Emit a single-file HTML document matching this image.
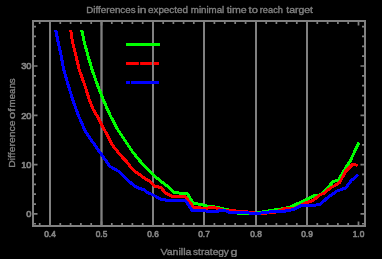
<!DOCTYPE html>
<html><head><meta charset="utf-8"><style>
html,body{margin:0;padding:0;background:#000;width:382px;height:259px;overflow:hidden}
svg{display:block}
</style></head><body>
<svg width="382" height="259" viewBox="0 0 382 259">
<rect width="382" height="259" fill="#000"/>
<line x1="50.00" y1="21" x2="50.00" y2="226" stroke="#808080" stroke-width="2"/>
<line x1="101.50" y1="21" x2="101.50" y2="226" stroke="#808080" stroke-width="2.3"/>
<line x1="153.00" y1="21" x2="153.00" y2="226" stroke="#808080" stroke-width="2"/>
<line x1="204.00" y1="21" x2="204.00" y2="226" stroke="#808080" stroke-width="2"/>
<line x1="256.00" y1="21" x2="256.00" y2="226" stroke="#808080" stroke-width="2"/>
<line x1="307.00" y1="21" x2="307.00" y2="226" stroke="#808080" stroke-width="2"/>
<path d="M39.70 226 v-3.0 M39.70 21 v3.0 M50.00 226 v-4.5 M50.00 21 v4.5 M60.30 226 v-3.0 M60.30 21 v3.0 M70.60 226 v-3.0 M70.60 21 v3.0 M80.90 226 v-3.0 M80.90 21 v3.0 M91.20 226 v-3.0 M91.20 21 v3.0 M101.50 226 v-4.5 M101.50 21 v4.5 M111.80 226 v-3.0 M111.80 21 v3.0 M122.10 226 v-3.0 M122.10 21 v3.0 M132.40 226 v-3.0 M132.40 21 v3.0 M142.70 226 v-3.0 M142.70 21 v3.0 M153.00 226 v-4.5 M153.00 21 v4.5 M163.20 226 v-3.0 M163.20 21 v3.0 M173.40 226 v-3.0 M173.40 21 v3.0 M183.60 226 v-3.0 M183.60 21 v3.0 M193.80 226 v-3.0 M193.80 21 v3.0 M204.00 226 v-4.5 M204.00 21 v4.5 M214.40 226 v-3.0 M214.40 21 v3.0 M224.80 226 v-3.0 M224.80 21 v3.0 M235.20 226 v-3.0 M235.20 21 v3.0 M245.60 226 v-3.0 M245.60 21 v3.0 M256.00 226 v-4.5 M256.00 21 v4.5 M266.20 226 v-3.0 M266.20 21 v3.0 M276.40 226 v-3.0 M276.40 21 v3.0 M286.60 226 v-3.0 M286.60 21 v3.0 M296.80 226 v-3.0 M296.80 21 v3.0 M307.00 226 v-4.5 M307.00 21 v4.5 M317.30 226 v-3.0 M317.30 21 v3.0 M327.60 226 v-3.0 M327.60 21 v3.0 M337.90 226 v-3.0 M337.90 21 v3.0 M348.20 226 v-3.0 M348.20 21 v3.0 M358.50 226 v-4.5 M358.50 21 v4.5 M33 223.76 h3.0 M365 223.76 h-3.0 M33 213.90 h4.5 M365 213.90 h-4.5 M33 204.04 h3.0 M365 204.04 h-3.0 M33 194.18 h3.0 M365 194.18 h-3.0 M33 184.32 h3.0 M365 184.32 h-3.0 M33 174.46 h3.0 M365 174.46 h-3.0 M33 164.60 h4.5 M365 164.60 h-4.5 M33 154.74 h3.0 M365 154.74 h-3.0 M33 144.88 h3.0 M365 144.88 h-3.0 M33 135.02 h3.0 M365 135.02 h-3.0 M33 125.16 h3.0 M365 125.16 h-3.0 M33 115.30 h4.5 M365 115.30 h-4.5 M33 105.44 h3.0 M365 105.44 h-3.0 M33 95.58 h3.0 M365 95.58 h-3.0 M33 85.72 h3.0 M365 85.72 h-3.0 M33 75.86 h3.0 M365 75.86 h-3.0 M33 66.00 h4.5 M365 66.00 h-4.5 M33 56.14 h3.0 M365 56.14 h-3.0 M33 46.28 h3.0 M365 46.28 h-3.0 M33 36.42 h3.0 M365 36.42 h-3.0 M33 26.56 h3.0 M365 26.56 h-3.0" stroke="#808080" stroke-width="1.7" fill="none"/>
<rect x="33" y="21" width="332" height="205" fill="none" stroke="#808080" stroke-width="2"/>
<defs><clipPath id="cl"><rect x="0" y="30" width="382" height="259"/></clipPath></defs>
<polyline points="81.3,28.0 84.0,41.0 88.0,56.0 92.2,70.0 97.5,85.0 103.4,100.0 110.0,115.0 118.0,130.0 132.7,152.0 140.4,161.5 154.7,176.2 164.3,184.0 168.0,186.3 174.3,192.9 187.0,193.2 193.1,203.0 202.4,204.8 210.5,206.8 214.8,207.0 221.6,208.5 229.3,210.2 238.9,213.6 255.0,213.3 265.0,211.6 274.6,210.0 284.3,208.5 290.0,207.0 301.6,201.8 313.2,196.0 321.2,194.7 327.4,188.2 333.5,181.2 338.2,180.5 344.3,170.1 350.0,161.4 359.0,142.3" fill="none" stroke="#00ff00" stroke-width="3" stroke-linejoin="round" shape-rendering="crispEdges" clip-path="url(#cl)"/>
<polyline points="70.5,28.0 72.3,41.0 75.5,54.0 79.3,70.0 84.7,85.0 89.4,100.0 93.5,110.0 98.3,118.0 102.0,125.7 108.2,136.5 111.9,144.0 114.5,147.8 120.2,155.0 126.6,161.7 133.2,170.1 139.0,174.2 143.1,177.3 148.9,180.8 155.0,186.3 160.9,187.5 165.5,193.0 172.0,196.1 185.0,196.5 193.5,207.0 204.7,208.5 208.2,208.0 214.0,207.3 222.5,210.0 236.0,211.0 240.0,211.0 255.0,213.0 265.0,213.2 274.6,212.4 284.3,208.7 294.0,208.7 303.9,203.5 313.0,200.5 319.0,195.5 324.3,193.0 330.5,187.8 336.6,184.6 339.6,182.6 345.6,171.5 352.4,164.6 357.6,165.2" fill="none" stroke="#ff0000" stroke-width="3" stroke-linejoin="round" shape-rendering="crispEdges" clip-path="url(#cl)"/>
<polyline points="55.3,28.0 57.9,41.0 61.0,55.0 63.8,70.0 68.2,85.0 72.8,100.0 78.2,115.0 85.6,131.9 89.9,138.0 95.3,145.8 101.6,154.8 110.0,166.4 119.3,171.8 127.4,180.0 135.0,186.3 139.0,188.2 144.3,190.0 147.0,192.2 153.9,195.4 160.9,199.2 169.0,200.6 185.9,201.0 192.0,210.3 214.0,211.4 224.5,210.5 231.2,213.0 240.0,212.5 255.0,213.3 265.0,212.8 274.6,211.0 284.3,211.2 293.5,209.6 299.3,206.5 301.6,205.5 315.0,205.1 320.0,204.6 327.4,197.8 337.0,191.0 345.5,188.0 351.2,180.6 358.2,174.8" fill="none" stroke="#0000ff" stroke-width="3" stroke-linejoin="round" shape-rendering="crispEdges" clip-path="url(#cl)"/>
<path d="M126 44.5 H160" stroke="#00ff00" stroke-width="3"/>
<path d="M126 63.4 H159" stroke="#ff0000" stroke-width="3" stroke-dasharray="12.9 1.2 11.8 1.6 6"/>
<path d="M126 82.4 H159" stroke="#0000ff" stroke-width="3" stroke-dasharray="4 1 28"/>
<g style="filter:blur(0.3px)">
<text x="86.20" y="13.20" font-size="8.7" textLength="49.40" lengthAdjust="spacingAndGlyphs" font-family="Liberation Sans" fill="#808080" stroke="#808080" stroke-width="0.35" stroke-linejoin="round">Differences</text>
<text x="137.20" y="13.20" font-size="8.7" textLength="9.40" lengthAdjust="spacingAndGlyphs" font-family="Liberation Sans" fill="#808080" stroke="#808080" stroke-width="0.35" stroke-linejoin="round">in</text>
<text x="148.00" y="13.20" font-size="8.7" textLength="39.90" lengthAdjust="spacingAndGlyphs" font-family="Liberation Sans" fill="#808080" stroke="#808080" stroke-width="0.35" stroke-linejoin="round">expected</text>
<text x="190.80" y="13.20" font-size="8.7" textLength="33.50" lengthAdjust="spacingAndGlyphs" font-family="Liberation Sans" fill="#808080" stroke="#808080" stroke-width="0.35" stroke-linejoin="round">minimal</text>
<text x="226.70" y="13.20" font-size="8.7" textLength="20.00" lengthAdjust="spacingAndGlyphs" font-family="Liberation Sans" fill="#808080" stroke="#808080" stroke-width="0.35" stroke-linejoin="round">time</text>
<text x="248.60" y="13.20" font-size="8.7" textLength="9.30" lengthAdjust="spacingAndGlyphs" font-family="Liberation Sans" fill="#808080" stroke="#808080" stroke-width="0.35" stroke-linejoin="round">to</text>
<text x="259.80" y="13.20" font-size="8.7" textLength="23.10" lengthAdjust="spacingAndGlyphs" font-family="Liberation Sans" fill="#808080" stroke="#808080" stroke-width="0.35" stroke-linejoin="round">reach</text>
<text x="286.30" y="13.20" font-size="8.7" textLength="26.70" lengthAdjust="spacingAndGlyphs" font-family="Liberation Sans" fill="#808080" stroke="#808080" stroke-width="0.35" stroke-linejoin="round">target</text>
<text x="160.40" y="254.50" font-size="9" textLength="31.10" lengthAdjust="spacingAndGlyphs" font-family="Liberation Sans" fill="#808080" stroke="#808080" stroke-width="0.35" stroke-linejoin="round">Vanilla</text>
<text x="193.10" y="254.50" font-size="9" textLength="35.80" lengthAdjust="spacingAndGlyphs" font-family="Liberation Sans" fill="#808080" stroke="#808080" stroke-width="0.35" stroke-linejoin="round">strategy</text>
<text x="230.50" y="254.50" font-size="9" textLength="6.90" lengthAdjust="spacingAndGlyphs" font-family="Liberation Sans" fill="#808080" stroke="#808080" stroke-width="0.35" stroke-linejoin="round">g</text>
<text transform="translate(15.00,167.60) rotate(-90)" x="-0.20" y="0" font-size="9.4" textLength="47.30" lengthAdjust="spacingAndGlyphs" font-family="Liberation Sans" fill="#808080" stroke="#808080" stroke-width="0.35" stroke-linejoin="round">Difference</text>
<text transform="translate(15.00,167.60) rotate(-90)" x="48.70" y="0" font-size="9.4" textLength="10.60" lengthAdjust="spacingAndGlyphs" font-family="Liberation Sans" fill="#808080" stroke="#808080" stroke-width="0.35" stroke-linejoin="round">of</text>
<text transform="translate(15.00,167.60) rotate(-90)" x="60.20" y="0" font-size="9.4" textLength="29.00" lengthAdjust="spacingAndGlyphs" font-family="Liberation Sans" fill="#808080" stroke="#808080" stroke-width="0.35" stroke-linejoin="round">means</text>
<text x="50.00" y="236.9" font-size="9.4" textLength="11.6" lengthAdjust="spacingAndGlyphs" text-anchor="middle" font-family="Liberation Sans" fill="#808080" stroke="#808080" stroke-width="0.7" stroke-linejoin="round">0.4</text>
<text x="101.50" y="236.9" font-size="9.4" textLength="11.6" lengthAdjust="spacingAndGlyphs" text-anchor="middle" font-family="Liberation Sans" fill="#808080" stroke="#808080" stroke-width="0.7" stroke-linejoin="round">0.5</text>
<text x="153.00" y="236.9" font-size="9.4" textLength="11.6" lengthAdjust="spacingAndGlyphs" text-anchor="middle" font-family="Liberation Sans" fill="#808080" stroke="#808080" stroke-width="0.7" stroke-linejoin="round">0.6</text>
<text x="204.00" y="236.9" font-size="9.4" textLength="11.6" lengthAdjust="spacingAndGlyphs" text-anchor="middle" font-family="Liberation Sans" fill="#808080" stroke="#808080" stroke-width="0.7" stroke-linejoin="round">0.7</text>
<text x="256.00" y="236.9" font-size="9.4" textLength="11.6" lengthAdjust="spacingAndGlyphs" text-anchor="middle" font-family="Liberation Sans" fill="#808080" stroke="#808080" stroke-width="0.7" stroke-linejoin="round">0.8</text>
<text x="307.00" y="236.9" font-size="9.4" textLength="11.6" lengthAdjust="spacingAndGlyphs" text-anchor="middle" font-family="Liberation Sans" fill="#808080" stroke="#808080" stroke-width="0.7" stroke-linejoin="round">0.9</text>
<text x="358.50" y="236.9" font-size="9.4" textLength="11.6" lengthAdjust="spacingAndGlyphs" text-anchor="middle" font-family="Liberation Sans" fill="#808080" stroke="#808080" stroke-width="0.7" stroke-linejoin="round">1.0</text>
<text x="31.4" y="217.20" font-size="9.2" text-anchor="end" font-family="Liberation Sans" fill="#808080" stroke="#808080" stroke-width="0.7" stroke-linejoin="round">0</text>
<text x="31.4" y="167.90" font-size="9.2" text-anchor="end" font-family="Liberation Sans" fill="#808080" stroke="#808080" stroke-width="0.7" stroke-linejoin="round">10</text>
<text x="31.4" y="118.60" font-size="9.2" text-anchor="end" font-family="Liberation Sans" fill="#808080" stroke="#808080" stroke-width="0.7" stroke-linejoin="round">20</text>
<text x="31.4" y="69.30" font-size="9.2" text-anchor="end" font-family="Liberation Sans" fill="#808080" stroke="#808080" stroke-width="0.7" stroke-linejoin="round">30</text>
</g>
</svg>
</body></html>
